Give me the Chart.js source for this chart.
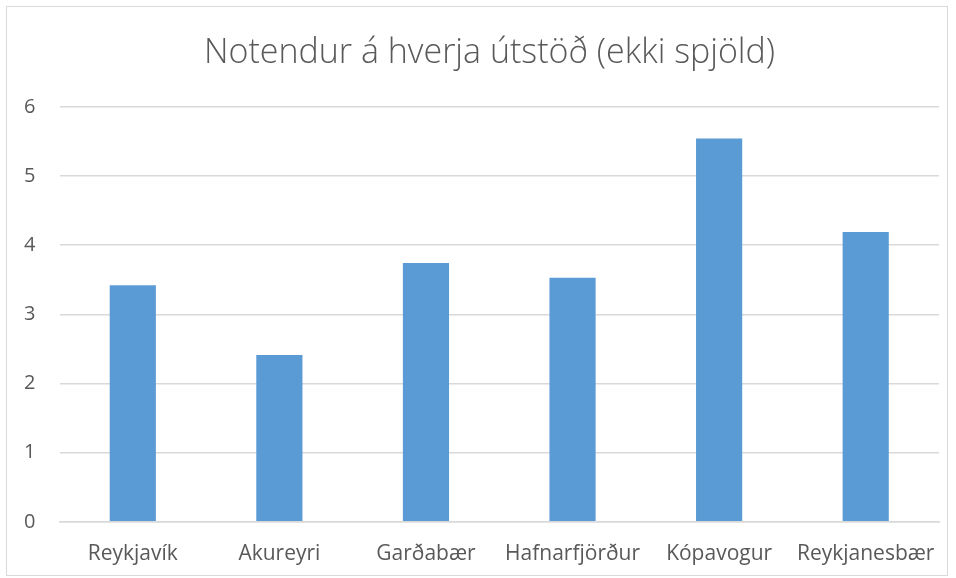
<!DOCTYPE html>
<html>
<head>
<meta charset="utf-8">
<script src="https://cdn.jsdelivr.net/npm/chart.js@4.4.0/dist/chart.umd.min.js"></script>
<style>
  html, body { margin: 0; padding: 0; background: #fff; overflow: hidden; }
  #frame {
    position: absolute; left: 6px; top: 6px;
    width: 942px; height: 570px;
    border: 1.5px solid #d9d9d9; box-sizing: border-box;
  }
  #wrap { position: absolute; left: 13px; top: 0; width: 939px; height: 584px; }
</style>
</head>
<body>
<div id="frame"><div id="wrap"><canvas id="chart"></canvas></div></div>
<script>
// data
const categories = ['Reykjavík', 'Akureyri', 'Garðabær', 'Hafnarfjörður', 'Kópavogur', 'Reykjanesbær'];
const usersPerStation = [3.42, 2.41, 3.74, 3.53, 5.54, 4.19];
const yTicks = [0, 1, 2, 3, 4, 5, 6];

// the y axis is squeezed narrow, so widen its label clip box back to the canvas edge
const yLabelRoom = {
    id: 'yLabelRoom',
    afterLayout: chart => { chart.scales.y.left = 0; }
};

const ctx = document.getElementById('chart').getContext('2d');
new Chart(ctx, {
    type: 'bar',
    data: {
        labels: categories,
        datasets: [{
            label: 'Notendur',
            data: usersPerStation,
            backgroundColor: '#5b9bd5',
            borderColor: '#5b9bd5',
            borderWidth: 0,
            categoryPercentage: 1.0,
            barPercentage: 0.315
        }]
    },
    plugins: [yLabelRoom],
    options: {
        responsive: true,
        maintainAspectRatio: false,
        animation: false,
        layout: { padding: { left: 20, right: 20, top: 10, bottom: 4 } },
        plugins: {
            legend: { display: false },
            tooltip: { enabled: false },
            title: {
                display: true,
                text: 'Notendur á hverja útstöð (ekki spjöld)',
                color: '#595959',
                font: { family: 'Open Sans', size: 34, weight: '300' },
                padding: { top: 16, bottom: 33 }
            }
        },
        scales: {
            y: {
                min: 0, max: 6,
                afterBuildTicks: axis => { axis.ticks = yTicks.map(v => ({ value: v })); },
                // fixed axis width so the plot starts where the original does
                afterFit: scale => { scale.width = 19.5; },
                grid: { color: '#d9d9d9', lineWidth: 1.5, drawTicks: false },
                border: { display: false },
                ticks: {
                    color: '#595959',
                    font: { family: 'Open Sans', size: 20 },
                    padding: 24
                }
            },
            x: {
                afterFit: scale => { scale.paddingLeft = 0; scale.paddingRight = 0; },
                grid: { display: false, drawTicks: false },
                border: { display: true, color: '#d9d9d9', width: 1.5 },
                ticks: {
                    color: '#595959',
                    font: { family: 'Open Sans', size: 21 },
                    padding: 20,
                    maxRotation: 0,
                    minRotation: 0,
                    autoSkip: false
                }
            }
        }
    }
});
</script>
</body>
</html>
